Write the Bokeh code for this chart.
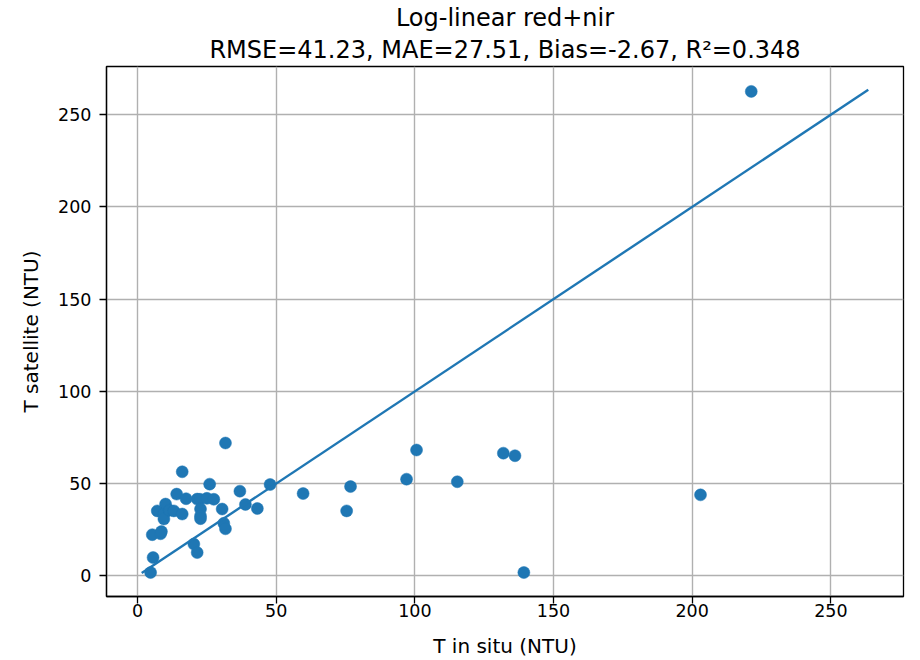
from bokeh.plotting import figure
from bokeh.models import Range1d, FixedTicker, Title
from bokeh.embed import file_html
from bokeh.resources import INLINE

# T in situ (NTU) vs T satellite (NTU)
t_insitu = [4.7, 5.6, 5.3, 8.3, 8.6, 7.1, 9.5, 9.5, 10.1, 11.5, 13.1, 14.1, 16.1, 16.1,
            17.5, 20.3, 21.5, 21.5, 22.5, 22.7, 22.7, 22.7, 25.0, 26.0, 27.5, 30.5,
            31.1, 31.7, 31.7, 36.9, 38.9, 43.2, 47.8, 59.7, 75.4, 76.8, 97.0, 100.6,
            115.3, 131.9, 136.1, 139.3, 203.0, 221.3]
t_satellite = [1.8, 9.9, 22.3, 22.8, 24.0, 35.2, 33.5, 30.8, 38.9, 35.5, 35.2, 44.3, 56.4, 33.5,
               41.8, 17.2, 12.6, 41.6, 41.5, 36.2, 32.5, 31.0, 42.0, 49.7, 41.5, 36.2,
               28.5, 25.5, 72.0, 45.9, 38.7, 36.5, 49.5, 44.6, 35.2, 48.4, 52.4, 68.2,
               51.0, 66.5, 65.1, 1.8, 43.9, 262.6]

# 1:1 reference line end points
one_to_one = [1.5, 263.5]

ticks = [0, 50, 100, 150, 200, 250]
title_1 = "Log-linear red+nir"
title_2 = "RMSE=41.23, MAE=27.51, Bias=-2.67, R²=0.348"
x_label = "T in situ (NTU)"
y_label = "T satellite (NTU)"

FONT = "DejaVu Sans"
BLUE = "#1f77b4"

p = figure(width=920, height=660, output_backend="svg", toolbar_location=None,
           x_range=Range1d(-11.2, 276.2), y_range=Range1d(-11.2, 276.1),
           min_border_left=106, min_border_right=17, min_border_top=66, min_border_bottom=64)

p.add_layout(Title(text=title_2, align="center", text_font=FONT, text_font_size="24px",
                   text_font_style="normal", text_color="black", standoff=5), "above")
p.add_layout(Title(text=title_1, align="center", text_font=FONT, text_font_size="24px",
                   text_font_style="normal", text_color="black", standoff=0), "above")

p.scatter(t_insitu, t_satellite, size=12, fill_color=BLUE, line_color=BLUE, line_width=0.5)
p.line(one_to_one, one_to_one, line_color=BLUE, line_width=2.4)

for ax in (p.xaxis[0], p.yaxis[0]):
    ax.ticker = FixedTicker(ticks=ticks)
    ax.major_label_text_font = FONT
    ax.major_label_text_font_size = "17.5px"
    ax.major_label_text_color = "black"
    ax.axis_label_text_font = FONT
    ax.axis_label_text_font_size = "20px"
    ax.axis_label_text_font_style = "normal"
    ax.axis_label_text_color = "black"
    ax.major_tick_out = 7
    ax.major_tick_in = 0
    ax.minor_tick_out = 0
    ax.minor_tick_in = 0
    ax.major_tick_line_color = "black"
    ax.major_tick_line_width = 1.3
    ax.axis_line_color = "black"
    ax.axis_line_width = 1.3

p.xaxis[0].axis_label = x_label
p.yaxis[0].axis_label = y_label
p.xaxis[0].major_label_standoff = 0
p.xaxis[0].axis_label_standoff = 14
p.yaxis[0].major_label_standoff = 8
p.yaxis[0].axis_label_standoff = 12

p.grid.grid_line_color = "#b0b0b0"
p.grid.grid_line_width = 1.4
p.outline_line_color = "black"
p.outline_line_width = 1.3
p.background_fill_color = "white"
p.border_fill_color = "white"

open("out.html", "w").write(file_html(p, INLINE))
